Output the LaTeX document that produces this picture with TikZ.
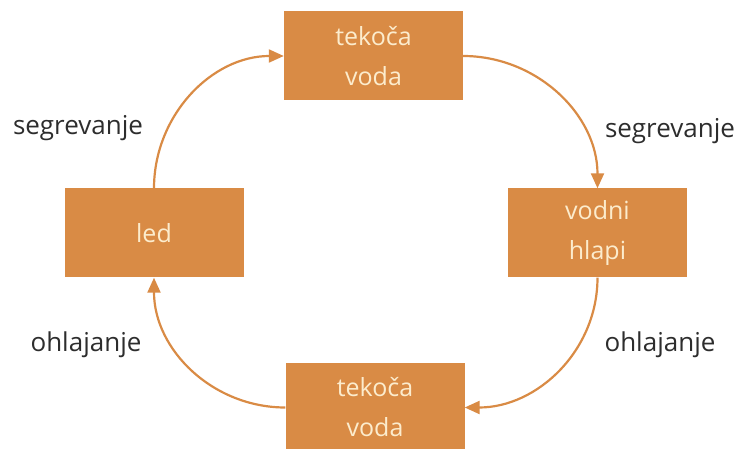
\documentclass[tikz,border=0pt]{standalone}
\usepackage{fontspec}
\setmainfont{Open Sans}
\usetikzlibrary{arrows.meta}
\definecolor{cycleOrange}{RGB}{217,139,69}
\definecolor{boxText}{RGB}{252,236,205}
\definecolor{labelGray}{RGB}{45,45,45}
\begin{document}
\begin{tikzpicture}
[x=1pt,y=1pt,
  boxDecorate/.style={shape=rectangle,fill=cycleOrange,text=boxText,inner sep=0pt,
    minimum width=179pt,minimum height=89pt,align=center,
    font=\fontsize{25}{40}\selectfont},
  lineDecorate/.style={-{Triangle[length=15pt,width=13pt]},draw=cycleOrange,line width=2.2pt},
  labelDecorate/.style={text=labelGray,inner sep=0pt,font=\fontsize{26}{30}\selectfont}]
\useasboundingbox (0,0) rectangle (748,448);
%% boxes of the cycle
\foreach \nodename/\x/\y/\txt in {
  top/373.5/392/{tekoča\\voda}, right/597.5/215/{vodni\\hlapi},
  bottom/375/40.5/{tekoča\\voda}, left/154/215/{led}}
{
  \node (\nodename) at (\x,\y) [boxDecorate] {\txt};
}
%% labels
\foreach \nodename/\x/\y/\txt in {
  heatA/78/320/segrevanje, heatB/670/317/segrevanje,
  coolA/86/103/ohlajanje, coolB/660/103/ohlajanje}
{
  \node (\nodename) at (\x,\y) [labelDecorate] {\txt};
}
%% arrows
\path
\foreach \startnode/\endnode/\o/\i in {
  left.north/top.west/90/180, top.east/right.north/0/90,
  right.south/bottom.east/-90/0, bottom.west/left.south/180/-90}
{
  (\startnode) edge[lineDecorate,out=\o,in=\i] (\endnode)
};
\end{tikzpicture}
\end{document}
